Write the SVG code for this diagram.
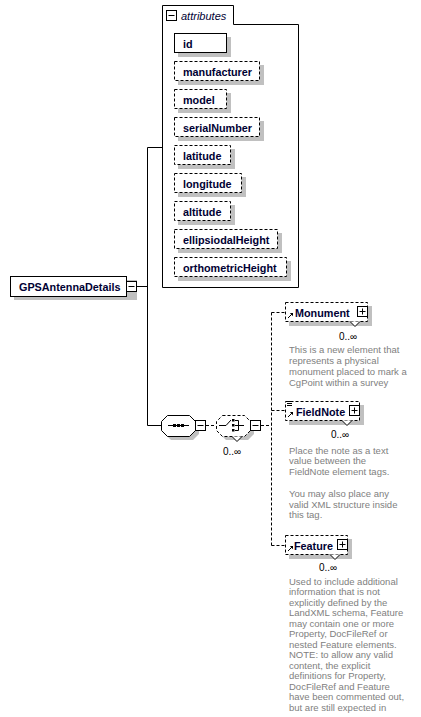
<svg xmlns="http://www.w3.org/2000/svg" width="421" height="717" viewBox="0 0 421 717">
<style>
.bg{fill:#ffffff}
.sh{fill:#c0c0c0}
.box{fill:#ffffff;stroke:#000000;stroke-width:1}
.dbox{fill:#ffffff;stroke:#000000;stroke-width:1;stroke-dasharray:3,2}
.ln{fill:none;stroke:#000000;stroke-width:1}
.dln{fill:none;stroke:#000000;stroke-width:1;stroke-dasharray:3,2}
.lbl{font-family:"Liberation Sans",Arial,sans-serif;font-size:10.8px;font-weight:bold;fill:#000033}
.att{font-family:"Liberation Sans",Arial,sans-serif;font-size:11px;font-style:italic;fill:#000033}
.occ{font-family:"Liberation Sans",Arial,sans-serif;font-size:10px;fill:#000000}
.doc{font-family:"Liberation Sans",Arial,sans-serif;font-size:9.5px;fill:#808080}
.ico{fill:#ffffff;stroke:#000000;stroke-width:1}
.dot{fill:#000000}
</style>
<defs>
<g id="minus"><rect class="ico" x="0.5" y="0.5" width="10" height="10"/><path class="ln" d="M2.5,5.5H8.5"/></g>
<g id="plus"><rect class="ico" x="0.5" y="0.5" width="10" height="10"/><path class="ln" d="M2.5,5.5H8.5M5.5,2.5V8.5"/></g>
<g id="refarrow"><path class="ln" d="M0,5L4.5,0.5"/><path class="dot" d="M1.8,0H5V3.2Z"/></g>
</defs>
<rect class="bg" x="0" y="0" width="421" height="717"/>

<g id="connectors">
<path class="ln" d="M137,286.5H147.5M147.5,147.5V425.5M147.5,147.5H162M147.5,425.5H161"/>
<path class="dln" d="M206,425.5H216M261,425.5H271.5M271.5,312.5V545.5M271.5,312.5H285M271.5,410.5H285M271.5,545.5H285"/>
</g>

<g id="node-GPSAntennaDetails">
<rect class="sh" x="14" y="280" width="123" height="20"/>
<rect class="box" x="10.5" y="276.5" width="116" height="20"/>
<text class="lbl" x="19" y="290.5">GPSAntennaDetails</text>
<use href="#minus" x="126" y="281"/>
</g>

<g id="node-attributes">
<path class="box" d="M162.5,287.5V5.5H233.5V24.5H298.5V287.5Z"/>
<use href="#minus" x="166" y="10"/>
<text class="att" x="181" y="20">attributes</text>
</g>

<g id="attr-id">
<rect class="sh" x="178" y="37" width="53" height="20"/>
<rect class="box" x="174.5" y="33.5" width="52" height="19"/>
<text class="lbl" x="183" y="47.5">id</text>
</g>
<g id="attr-manufacturer">
<rect class="sh" x="178" y="65" width="86" height="20"/>
<rect class="dbox" x="174.5" y="61.5" width="85" height="19"/>
<text class="lbl" x="183" y="75.5">manufacturer</text>
</g>
<g id="attr-model">
<rect class="sh" x="178" y="93" width="53" height="20"/>
<rect class="dbox" x="174.5" y="89.5" width="52" height="19"/>
<text class="lbl" x="183" y="103.5">model</text>
</g>
<g id="attr-serialNumber">
<rect class="sh" x="178" y="121" width="86" height="20"/>
<rect class="dbox" x="174.5" y="117.5" width="85" height="19"/>
<text class="lbl" x="183" y="131.5">serialNumber</text>
</g>
<g id="attr-latitude">
<rect class="sh" x="178" y="149" width="57" height="20"/>
<rect class="dbox" x="174.5" y="145.5" width="56" height="19"/>
<text class="lbl" x="183" y="159.5">latitude</text>
</g>
<g id="attr-longitude">
<rect class="sh" x="178" y="177" width="68" height="20"/>
<rect class="dbox" x="174.5" y="173.5" width="67" height="19"/>
<text class="lbl" x="183" y="187.5">longitude</text>
</g>
<g id="attr-altitude">
<rect class="sh" x="178" y="205" width="57" height="20"/>
<rect class="dbox" x="174.5" y="201.5" width="56" height="19"/>
<text class="lbl" x="183" y="215.5">altitude</text>
</g>
<g id="attr-ellipsiodalHeight">
<rect class="sh" x="178" y="233" width="104" height="20"/>
<rect class="dbox" x="174.5" y="229.5" width="103" height="19"/>
<text class="lbl" x="183" y="243.5">ellipsiodalHeight</text>
</g>
<g id="attr-orthometricHeight">
<rect class="sh" x="178" y="261" width="113" height="20"/>
<rect class="dbox" x="174.5" y="257.5" width="112" height="19"/>
<text class="lbl" x="183" y="271.5">orthometricHeight</text>
</g>

<g id="node-sequence">
<polygon class="sh" points="171,419 193,419 199,425 199,434 193,440 171,440 165,434 165,425"/>
<polygon class="box" points="167.5,415.5 189.5,415.5 195.5,421.5 195.5,430.5 189.5,436.5 167.5,436.5 161.5,430.5 161.5,421.5"/>
<path class="ln" d="M168,425.5H189"/>
<rect class="dot" x="173" y="424" width="3" height="3"/>
<rect class="dot" x="177" y="424" width="3" height="3"/>
<rect class="dot" x="181" y="424" width="3" height="3"/>
<use href="#minus" x="195" y="420"/>
</g>

<g id="node-choice">
<polygon class="sh" points="226,419 248,419 254,425 254,434 248,440 226,440 220,434 220,425"/>
<polygon class="dbox" points="222.5,415.5 244.5,415.5 250.5,421.5 250.5,430.5 244.5,436.5 222.5,436.5 216.5,430.5 216.5,421.5"/>
<path class="box" d="M232,436.5L237,441.5L242,436.5"/>
<path class="ln" d="M219,425.5H226L231,420"/>
<rect class="dot" x="232" y="419" width="2.5" height="2.5"/>
<rect class="dot" x="232" y="424" width="2.5" height="2.5"/>
<rect class="dot" x="232" y="429" width="2.5" height="2.5"/>
<path class="ln" d="M235,420.5H238.5V430.5H235M235,425.5H244"/>
<use href="#minus" x="250" y="420"/>
<text class="occ" x="223" y="454.5">0..∞</text>
</g>

<g id="node-Monument">
<rect class="sh" x="289" y="306" width="83" height="20"/>
<rect class="dbox" x="285.5" y="302.5" width="82" height="19"/>
<path class="box" d="M350,321.5L355,326.5L360,321.5"/>
<use href="#refarrow" x="288" y="313"/>
<text class="lbl" x="295" y="316.5">Monument</text>
<use href="#plus" x="357" y="306"/>
<text class="occ" x="339" y="339.5">0..∞</text>
<text class="doc" x="289" y="352.5">This is a new element that</text>
<text class="doc" x="289" y="363.8">represents a physical</text>
<text class="doc" x="289" y="375.1">monument placed to mark a</text>
<text class="doc" x="289" y="386.4">CgPoint within a survey</text>
</g>

<g id="node-FieldNote">
<rect class="sh" x="289" y="405" width="75" height="20"/>
<rect class="dbox" x="285.5" y="401.5" width="74" height="19"/>
<path class="box" d="M342,420.5L347,425.5L352,420.5"/>
<path class="ln" d="M287,401.5H292M287,403.5H292M287,405.5H292"/>
<use href="#refarrow" x="288" y="412"/>
<text class="lbl" x="296" y="415.5">FieldNote</text>
<use href="#plus" x="349" y="405"/>
<text class="occ" x="331" y="438">0..∞</text>
<text class="doc" x="289" y="453.5">Place the note as a text</text>
<text class="doc" x="289" y="464.3">value between the</text>
<text class="doc" x="289" y="475.1">FieldNote element tags.</text>
<text class="doc" x="289" y="496.7">You may also place any</text>
<text class="doc" x="289" y="507.5">valid XML structure inside</text>
<text class="doc" x="289" y="518.3">this tag.</text>
</g>

<g id="node-Feature">
<rect class="sh" x="289" y="539" width="63" height="20"/>
<rect class="dbox" x="285.5" y="535.5" width="62" height="19"/>
<path class="box" d="M330,554.5L335,559.5L340,554.5"/>
<use href="#refarrow" x="288" y="546"/>
<text class="lbl" x="294" y="549.5">Feature</text>
<use href="#plus" x="337" y="539"/>
<text class="occ" x="319" y="571">0..∞</text>
<text class="doc" x="289" y="584.5">Used to include additional</text>
<text class="doc" x="289" y="595">information that is not</text>
<text class="doc" x="289" y="605.5">explicitly defined by the</text>
<text class="doc" x="289" y="616">LandXML schema, Feature</text>
<text class="doc" x="289" y="626.5">may contain one or more</text>
<text class="doc" x="289" y="637">Property, DocFileRef or</text>
<text class="doc" x="289" y="647.5">nested Feature elements.</text>
<text class="doc" x="289" y="658">NOTE: to allow any valid</text>
<text class="doc" x="289" y="668.5">content, the explicit</text>
<text class="doc" x="289" y="679">definitions for Property,</text>
<text class="doc" x="289" y="689.5">DocFileRef and Feature</text>
<text class="doc" x="289" y="700">have been commented out,</text>
<text class="doc" x="289" y="710.5">but are still expected in</text>
</g>
</svg>
